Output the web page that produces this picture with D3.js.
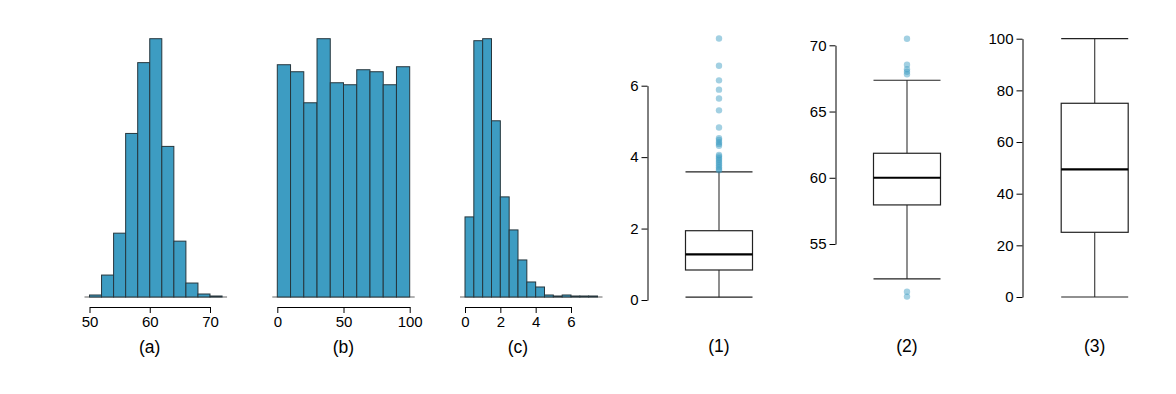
<!DOCTYPE html>
<html>
<head>
<meta charset="utf-8">
<script src="https://cdn.jsdelivr.net/npm/d3@7"></script>
<style>
  body { margin: 0; background: #fff; }
  text { font-family: "Liberation Sans", Arial, sans-serif; }
</style>
</head>
<body>
<svg id="chart" width="1176" height="394"></svg>
<script>
// histogram data (bin starts, width, counts)
var histALabel = "(a)";
var histAStart = 50, histAStep = 2;
var histACounts = [2, 22, 64, 164, 235, 259, 151, 56, 14, 3, 1];
var histATicks = [50, 60, 70];

var histBLabel = "(b)";
var histBStart = 0, histBStep = 10;
var histBCounts = [232, 225, 194, 258, 214, 212, 227, 225, 212, 230];
var histBTicks = [0, 50, 100];

var histCLabel = "(c)";
var histCStart = 0, histCStep = 0.5;
var histCCounts = [80, 256, 258, 176, 100, 67, 37, 15, 10, 2, 1, 2, 1, 1, 1];
var histCTicks = [0, 2, 4, 6];

// box plot data: [lower whisker, Q1, median, Q3, upper whisker]
var box1Label = "(1)";
var box1Stats = [0.08, 0.84, 1.28, 1.94, 3.59];
var box1Outliers = [7.32, 6.56, 6.15, 5.89, 5.64, 5.31, 4.83, 4.53, 4.48, 4.42, 4.37, 4.32,
                    4.06, 4.02, 3.97, 3.92, 3.87, 3.82, 3.77, 3.72, 3.67, 3.63];
var box1Ticks = [0, 2, 4, 6];

var box2Label = "(2)";
var box2Stats = [52.36, 57.95, 60.0, 61.85, 67.36];
var box2Outliers = [70.5, 68.54, 68.19, 68.0, 67.81, 51.4, 51.03];
var box2Ticks = [55, 60, 65, 70];

var box3Label = "(3)";
var box3Stats = [0, 25.05, 49.4, 75.0, 100];
var box3Outliers = [];
var box3Ticks = [0, 20, 40, 60, 80, 100];

var svg = d3.select("#chart");
var barFill = "#3d9cc2";
var baseY = 297, topY = 38.7;

function histogram(counts, start, step, ticks, label, x0, x1) {
  var bins = counts.map(function(c, i) {
    return { x0: start + i * step, x1: start + (i + 1) * step, n: c };
  });
  var x = d3.scaleLinear().domain([ticks[0], ticks[ticks.length - 1]]).range([x0, x1]);
  var y = d3.scaleLinear().domain([0, d3.max(counts)]).range([baseY, topY]);
  var g = svg.append("g");

  var lo = x(bins[0].x0), hi = x(bins[bins.length - 1].x1);
  g.append("line")
    .attr("x1", lo - 5).attr("x2", hi + 5)
    .attr("y1", baseY).attr("y2", baseY)
    .attr("stroke", "#666").attr("stroke-width", 1);

  g.selectAll("rect").data(bins).enter().append("rect")
    .attr("x", function(d) { return x(d.x0); })
    .attr("width", function(d) { return x(d.x1) - x(d.x0); })
    .attr("y", function(d) { return y(d.n); })
    .attr("height", function(d) { return baseY - y(d.n); })
    .attr("fill", barFill)
    .attr("stroke", "#26363d")
    .attr("stroke-width", 1);

  var axis = g.append("g")
    .attr("transform", "translate(0,307)")
    .call(d3.axisBottom(x).tickValues(ticks).tickSize(6).tickSizeOuter(0).tickFormat(d3.format("d")));
  axis.attr("font-size", 15).attr("font-family", "Liberation Sans, Arial, sans-serif");
  axis.selectAll("text").attr("fill", "#000");
  axis.selectAll("line,path").attr("stroke", "#000");

  g.append("text")
    .attr("x", (x0 + x1) / 2)
    .attr("y", 347)
    .attr("text-anchor", "middle")
    .attr("dominant-baseline", "central")
    .attr("font-size", 17.5)
    .text(label);
}

function boxplot(stats, outliers, ticks, label, axisX, cx, y0, y1) {
  var y = d3.scaleLinear().domain([ticks[0], ticks[ticks.length - 1]]).range([y0, y1]);
  var w = 67;
  var g = svg.append("g");

  var axis = g.append("g")
    .attr("transform", "translate(" + axisX + ",0)")
    .call(d3.axisLeft(y).tickValues(ticks).tickSize(6).tickSizeOuter(0).tickFormat(d3.format("d")));
  axis.attr("font-size", 15).attr("font-family", "Liberation Sans, Arial, sans-serif");
  axis.selectAll("text").attr("fill", "#000");
  axis.selectAll("line,path").attr("stroke", "#000");

  // whiskers
  g.append("line").attr("x1", cx).attr("x2", cx)
    .attr("y1", y(stats[0])).attr("y2", y(stats[1]))
    .attr("stroke", "#444").attr("stroke-width", 1.2);
  g.append("line").attr("x1", cx).attr("x2", cx)
    .attr("y1", y(stats[3])).attr("y2", y(stats[4]))
    .attr("stroke", "#444").attr("stroke-width", 1.2);
  [stats[0], stats[4]].forEach(function(v) {
    g.append("line").attr("x1", cx - w / 2).attr("x2", cx + w / 2)
      .attr("y1", y(v)).attr("y2", y(v))
      .attr("stroke", "#222").attr("stroke-width", 1.2);
  });

  g.append("rect")
    .attr("x", cx - w / 2).attr("width", w)
    .attr("y", y(stats[3])).attr("height", y(stats[1]) - y(stats[3]))
    .attr("fill", "#fff").attr("stroke", "#222").attr("stroke-width", 1.2);
  g.append("line").attr("x1", cx - w / 2).attr("x2", cx + w / 2)
    .attr("y1", y(stats[2])).attr("y2", y(stats[2]))
    .attr("stroke", "#000").attr("stroke-width", 2.2);

  g.selectAll("circle").data(outliers).enter().append("circle")
    .attr("cx", cx)
    .attr("cy", function(d) { return y(d); })
    .attr("r", 3.2)
    .attr("fill", barFill)
    .attr("fill-opacity", 0.48);

  g.append("text")
    .attr("x", cx)
    .attr("y", 346)
    .attr("text-anchor", "middle")
    .attr("dominant-baseline", "central")
    .attr("font-size", 17.5)
    .text(label);
}

histogram(histACounts, histAStart, histAStep, histATicks, histALabel, 89.5, 210);
histogram(histBCounts, histBStart, histBStep, histBTicks, histBLabel, 277.3, 409.7);
histogram(histCCounts, histCStart, histCStep, histCTicks, histCLabel, 465, 571);

boxplot(box1Stats, box1Outliers, box1Ticks, box1Label, 647.5, 719, 300, 85.7);
boxplot(box2Stats, box2Outliers, box2Ticks, box2Label, 835.5, 907, 244, 45.3);
boxplot(box3Stats, box3Outliers, box3Ticks, box3Label, 1022.5, 1094.7, 297, 38.7);
</script>
</body>
</html>
